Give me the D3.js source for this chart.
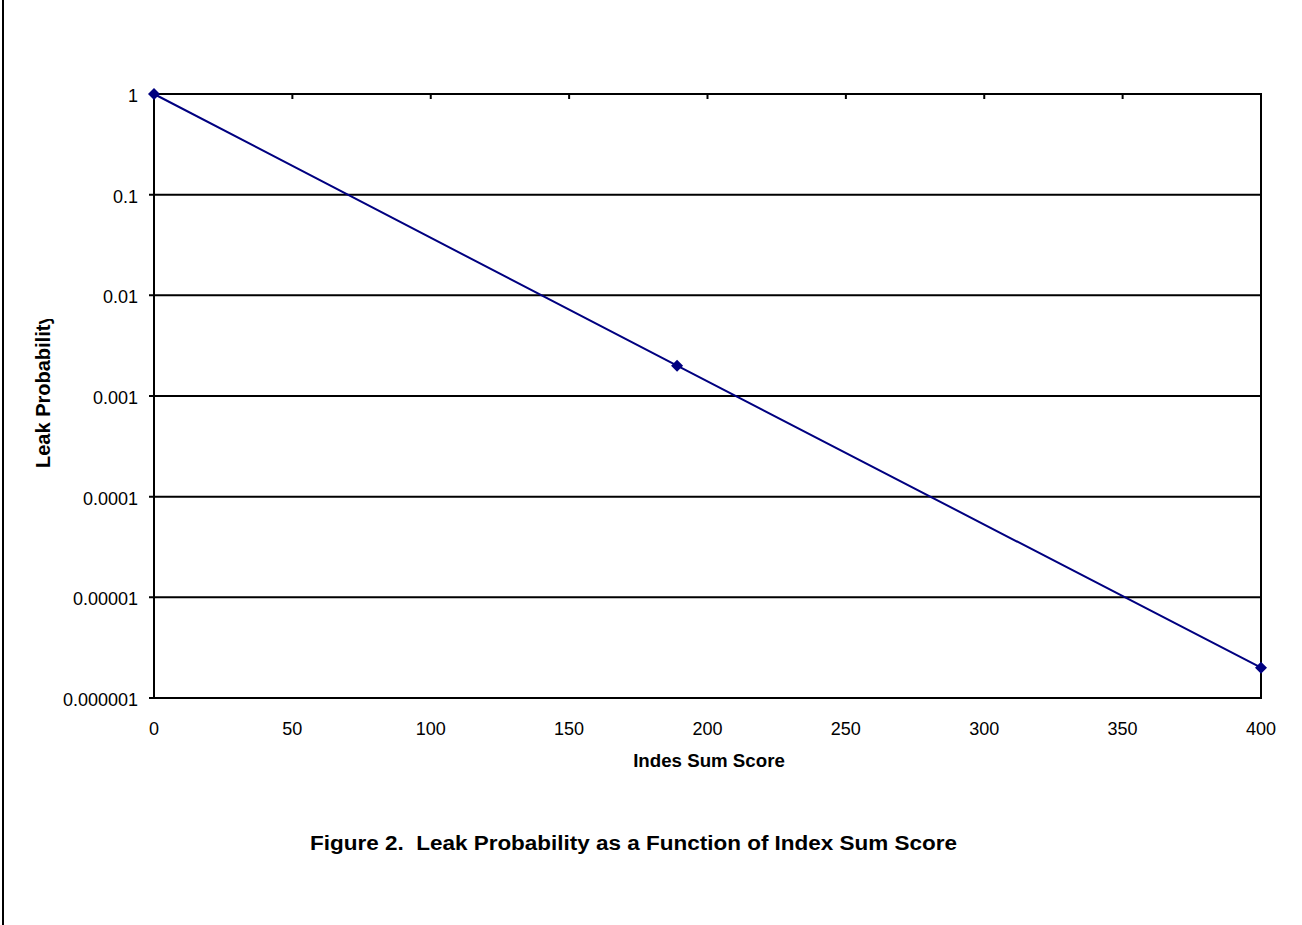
<!DOCTYPE html>
<html>
<head>
<meta charset="utf-8">
<script src="https://cdn.jsdelivr.net/npm/d3@7"></script>
<style>
  body { margin: 0; background: #fff; }
  text { font-family: 'Liberation Sans', Arial, sans-serif; white-space: pre; }
</style>
</head>
<body>
<div id="chart"></div>
<script>
const scores = [0, 189, 400]
const probs = [1, 0.002, 0.000002]
const xTicks = [0, 50, 100, 150, 200, 250, 300, 350, 400]
const yTicks = [1, 0.1, 0.01, 0.001, 0.0001, 0.00001, 0.000001]
const yTickLabels = ['1', '0.1', '0.01', '0.001', '0.0001', '0.00001', '0.000001']

const W = 1302
const H = 925
const plotLeft = 154
const plotRight = 1261
const plotTop = 94
const plotBottom = 698

const svg = d3.select('#chart').append('svg').attr('width', W).attr('height', H)

svg.append('rect').attr('width', W).attr('height', H).attr('fill', '#ffffff')

// page border on the left
svg
  .append('line')
  .attr('x1', 3)
  .attr('y1', 0)
  .attr('x2', 3)
  .attr('y2', H)
  .attr('stroke', '#000')
  .attr('stroke-width', 2)

const x = d3.scaleLinear().domain([0, 400]).range([plotLeft, plotRight])
const y = d3.scaleLog().domain([0.000001, 1]).range([plotBottom, plotTop])

// gridlines
svg
  .append('g')
  .selectAll('line')
  .data(yTicks)
  .join('line')
  .attr('x1', plotLeft - 5)
  .attr('x2', plotRight)
  .attr('y1', (d) => y(d))
  .attr('y2', (d) => y(d))
  .attr('stroke', '#000')
  .attr('stroke-width', 2)

// plot frame
svg
  .append('rect')
  .attr('x', plotLeft)
  .attr('y', plotTop)
  .attr('width', plotRight - plotLeft)
  .attr('height', plotBottom - plotTop)
  .attr('fill', 'none')
  .attr('stroke', '#000')
  .attr('stroke-width', 2)

// x ticks sit on the top edge, pointing down
svg
  .append('g')
  .selectAll('line')
  .data(xTicks)
  .join('line')
  .attr('x1', (d) => x(d))
  .attr('x2', (d) => x(d))
  .attr('y1', plotTop)
  .attr('y2', plotTop + 5)
  .attr('stroke', '#000')
  .attr('stroke-width', 2)

svg
  .append('g')
  .selectAll('text')
  .data(xTicks)
  .join('text')
  .attr('x', (d) => x(d))
  .attr('y', 735)
  .attr('text-anchor', 'middle')
  .attr('font-size', 18)
  .attr('fill', '#000')
  .text((d) => d)

svg
  .append('g')
  .selectAll('text')
  .data(yTicks)
  .join('text')
  .attr('x', plotLeft - 16)
  .attr('y', (d) => y(d) + 8)
  .attr('text-anchor', 'end')
  .attr('font-size', 18)
  .attr('fill', '#000')
  .text((d, i) => yTickLabels[i])

// axis titles
svg
  .append('text')
  .attr('x', 709)
  .attr('y', 767)
  .attr('text-anchor', 'middle')
  .attr('font-size', 18.7)
  .attr('font-weight', 'bold')
  .text('Indes Sum Score')

svg
  .append('clipPath')
  .attr('id', 'ytitle-clip')
  .append('rect')
  .attr('x', 0)
  .attr('y', 319)
  .attr('width', 100)
  .attr('height', 200)

svg
  .append('g')
  .attr('clip-path', 'url(#ytitle-clip)')
  .append('text')
  .attr('transform', 'translate(50 468) rotate(-90)')
  .attr('text-anchor', 'start')
  .attr('font-size', 20)
  .attr('font-weight', 'bold')
  .text('Leak Probability')

// series
const pts = scores.map((s, i) => [s, probs[i]])

svg
  .append('path')
  .datum(pts)
  .attr('d', d3.line().x((d) => x(d[0])).y((d) => y(d[1])))
  .attr('fill', 'none')
  .attr('stroke', '#000080')
  .attr('stroke-width', 2)

svg
  .append('g')
  .selectAll('path')
  .data(pts)
  .join('path')
  .attr('transform', (d) => `translate(${x(d[0])} ${y(d[1])})`)
  .attr('d', 'M0,-6L6,0L0,6L-6,0Z')
  .attr('fill', '#000080')

// caption
svg
  .append('text')
  .attr('x', 310)
  .attr('y', 850)
  .attr('text-anchor', 'start')
  .attr('font-size', 20)
  .attr('font-weight', 'bold')
  .attr('textLength', 647)
  .attr('lengthAdjust', 'spacingAndGlyphs')
  .text('Figure 2.  Leak Probability as a Function of Index Sum Score')
</script>
</body>
</html>
